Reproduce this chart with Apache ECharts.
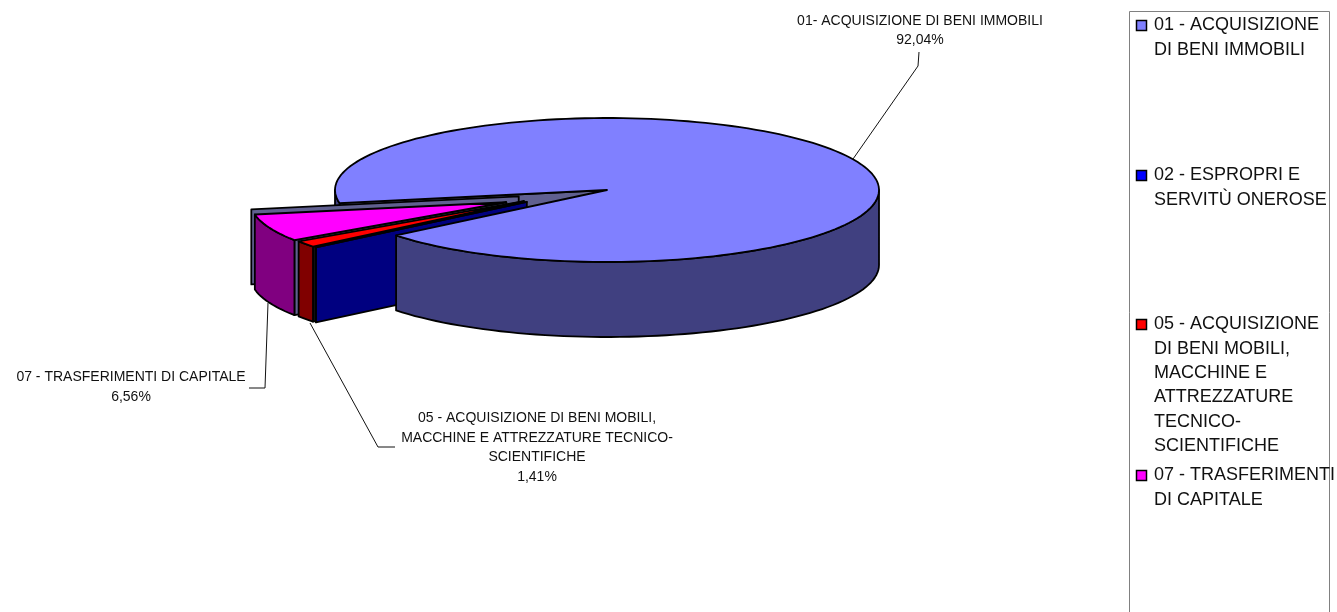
<!DOCTYPE html>
<html>
<head>
<meta charset="utf-8">
<style>html,body{margin:0;background:#fff}#chart{width:1337px;height:612px}</style>
<script src="https://cdn.jsdelivr.net/npm/echarts@6/dist/echarts.min.js"></script>
</head>
<body>
<div id="chart"></div>
<script>
// valori
const categories = ["01 - ACQUISIZIONE\nDI BENI IMMOBILI", "02 - ESPROPRI E\nSERVITÙ ONEROSE", "05 - ACQUISIZIONE\nDI BENI MOBILI,\nMACCHINE E\nATTREZZATURE\nTECNICO-\nSCIENTIFICHE", "07 - TRASFERIMENTI\nDI CAPITALE"];
const values = [92.04, 0.01, 1.41, 6.56];
const dataLabels = ["01- ACQUISIZIONE DI BENI IMMOBILI\n92,04%", "05 - ACQUISIZIONE DI BENI MOBILI,\nMACCHINE E ATTREZZATURE TECNICO-\nSCIENTIFICHE\n1,41%", "07 - TRASFERIMENTI DI CAPITALE\n6,56%"];

const topColors = ["#8080ff", "#0000ff", "#ff0000", "#ff00ff"];
const rimColors = ["#404080", "#000080", "#800000", "#800080"];
const wallColors = ["#606090", "#000080", "#111111", "#606090"];
const explodeX = [0, 0.38, 0.38, 0.4];
const explodeY = [0, 0.26, 0.26, 0.45];
const radiusScale = [1, 1, 1, 0.94];
const zOrder = [6, 5, 4, 3];

const cx = 607, cy = 190, rx = 272, ry = 72, depth = 75;
const startAngle = 169.5;

// angoli in senso orario sullo schermo
const spans = [];
let cum = 0;
values.forEach(v => {
  const a = echarts.number.linearMap(cum, [0, 100], [startAngle, startAngle + 360]);
  cum += v;
  const b = echarts.number.linearMap(cum, [0, 100], [startAngle, startAngle + 360]);
  spans.push([a, b]);
});

function pt(ox, oy, deg, s, dz) {
  const r = deg * Math.PI / 180;
  return [ox + rx * s * Math.cos(r), oy + ry * s * Math.sin(r) + (dz || 0)];
}
function arc(ox, oy, a, b, s, dz) {
  const pts = [];
  const n = Math.max(1, Math.ceil((b - a) / 2));
  for (let i = 0; i <= n; i++) pts.push(pt(ox, oy, a + (b - a) * i / n, s, dz));
  return pts;
}
function face(points, fill, z2) {
  return {
    type: "polygon",
    z2: z2,
    shape: { points: points },
    style: { fill: fill, stroke: "#000", lineWidth: 1.8, lineJoin: "round" }
  };
}
function rim(ox, oy, a, b, s, fill, z2) {
  return face(arc(ox, oy, a, b, s, 0).concat(arc(ox, oy, a, b, s, depth).reverse()), fill, z2);
}
function wall(ox, oy, deg, s, fill, z2) {
  const p = pt(ox, oy, deg, s, 0), q = pt(ox, oy, deg, s, depth);
  return face([[ox, oy], p, q, [ox, oy + depth]], fill, z2);
}

function renderSlice(params, api) {
  const i = api.value(0);
  const [a, b] = spans[i];
  const s = radiusScale[i];
  const mid = (a + b) / 2 * Math.PI / 180;
  const ox = cx + rx * explodeX[i] * Math.cos(mid);
  const oy = cy + ry * explodeY[i] * Math.sin(mid);
  const kids = [];
  if (i === 0) {
    // parete interna e fetta a valore nullo staccata dietro al 07
    kids.push(wall(cx, cy, a, 1, wallColors[0], 0));
    const r = a * Math.PI / 180;
    kids.push(wall(cx + rx * 0.33 * Math.cos(r), cy + ry * 0.33 * Math.sin(r) + 2, a, 1, wallColors[0], 2));
    kids.push(rim(cx, cy, a, 180, 1, rimColors[0], 1));
    kids.push(rim(cx, cy, 360, b, 1, rimColors[0], 6));
  } else {
    kids.push(wall(ox, oy, a, s, wallColors[i], zOrder[i]));
    kids.push(rim(ox, oy, a, b, s, rimColors[i], zOrder[i]));
  }
  kids.push(face([[ox, oy]].concat(arc(ox, oy, a, b, s, 0)), topColors[i], zOrder[i]));
  return { type: "group", children: kids };
}

function labelText(text, x, y, lh) {
  return {
    type: "text", x: x, y: y,
    style: { text: text, font: '14px "Liberation Sans", Arial, sans-serif', fill: "#111", textAlign: "center", lineHeight: lh, textVerticalAlign: "top" }
  };
}
function leader(points) {
  return { type: "polyline", shape: { points: points }, style: { fill: null, stroke: "#111", lineWidth: 1 } };
}

const legendTops = [13, 163, 312, 463];
const legendItems = [];
categories.forEach((name, i) => {
  legendItems.push({
    type: "rect",
    shape: { x: 1136.5, y: legendTops[i] + 7.5, width: 10, height: 10 },
    style: { fill: topColors[i], stroke: "#000", lineWidth: 1.5 }
  });
  legendItems.push({
    type: "text", x: 1154, y: legendTops[i],
    style: { text: name, font: '18px "Liberation Sans", Arial, sans-serif', fill: "#111", lineHeight: 24.4, textVerticalAlign: "top" }
  });
});

const chart = echarts.init(document.getElementById("chart"), null, { renderer: "canvas" });
chart.setOption({
  animation: false,
  backgroundColor: "#fff",
  series: [{
    type: "custom",
    coordinateSystem: "none",
    data: values.map((v, i) => [i, v]),
    renderItem: renderSlice,
    silent: true
  }],
  graphic: [
    { type: "polyline", shape: { points: [[1129.5, 613], [1129.5, 11.5], [1329.5, 11.5], [1329.5, 613]] }, style: { fill: null, stroke: "#808080", lineWidth: 1 } },
    labelText(dataLabels[0], 920, 12, 18.5),
    labelText(dataLabels[1], 537, 408.5, 19.5),
    labelText(dataLabels[2], 131, 367.5, 20),
    leader([[919, 52], [918, 66], [853, 159]]),
    leader([[249, 388], [265, 388], [268, 303]]),
    leader([[395, 447], [378, 447], [310, 323]])
  ].concat(legendItems)
});
</script>
</body>
</html>
